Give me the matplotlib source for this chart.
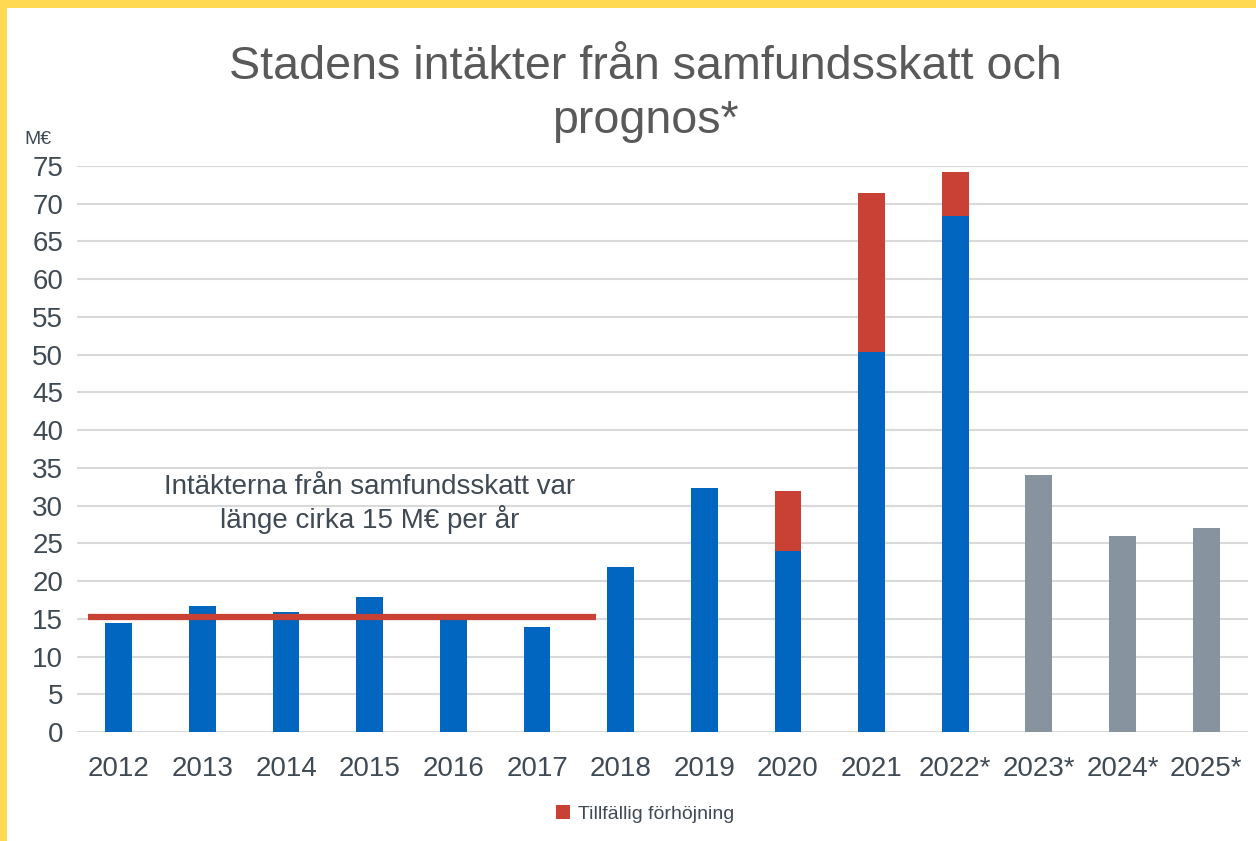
import numpy as np
import matplotlib.pyplot as plt
from matplotlib.patches import Rectangle

years = ["2012", "2013", "2014", "2015", "2016", "2017", "2018", "2019",
         "2020", "2021", "2022*", "2023*", "2024*", "2025*"]
base = [14.4, 16.7, 15.9, 17.9, 15.3, 13.9, 21.9, 32.3, 24.0, 50.4, 68.4, 34.0, 26.0, 27.0]
extra = [0, 0, 0, 0, 0, 0, 0, 0, 7.9, 21.0, 5.8, 0, 0, 0]
forecast = [False] * 11 + [True] * 3
avg_level = 15.24
avg_span = (-0.37, 5.71)

blue = "#0066BF"
red = "#C84134"
grey = "#87939E"
txt = "#404A54"

plt.rcParams["font.family"] = ["Liberation Sans", "DejaVu Sans"]

fig = plt.figure(figsize=(12.56, 8.41), dpi=100)
fig.patch.set_facecolor("#FFD951")
# white card inside the yellow frame
fig.patches.append(Rectangle((7 / 1256, 0), 1 - 7 / 1256, 1 - 8 / 841,
                             transform=fig.transFigure, facecolor="white",
                             edgecolor="none", zorder=-10))

ax = fig.add_axes([0.0613, 0.1296, 0.9323, 0.673])
ax.set_zorder(2)
ax.set_facecolor("none")

x = np.arange(len(years))
colors = [grey if f else blue for f in forecast]
ax.bar(x, base, width=0.32, color=colors, zorder=2)
red_bars = ax.bar(x, extra, width=0.32, bottom=base, color=red, zorder=2,
                  label="Tillfällig förhöjning")

ax.plot(avg_span, [avg_level, avg_level], color=red, lw=4.5, zorder=3,
        solid_capstyle="butt")

ax.text(3.0, 30.2, "Intäkterna från samfundsskatt var\nlänge cirka 15 M€ per år",
        ha="center", va="center", fontsize=20, color=txt, linespacing=1.2)

ax.set_xlim(-0.5, 13.5)
ax.set_ylim(0, 75)
ax.set_yticks(np.arange(0, 76, 5))
ax.set_xticks(x)
ax.set_xticklabels(years)
ax.tick_params(axis="both", length=0, labelsize=20, colors=txt)
ax.tick_params(axis="x", pad=17)
ax.tick_params(axis="y", pad=10)
ax.grid(axis="y", color="#D9D9D9", lw=1.5, zorder=0)
ax.set_axisbelow(True)
for s in ax.spines.values():
    s.set_visible(False)

fig.text(38 / 1256, 1 - 140 / 841, "M€", fontsize=14, color=txt,
         ha="center", va="center")
fig.text(645 / 1256, 1 - 94 / 841, "Stadens intäkter från samfundsskatt och\nprognos*",
         ha="center", va="center", fontsize=33.6, color="#595959", linespacing=1.3)

fig.legend(handles=[red_bars], loc="center", bbox_to_anchor=(645 / 1256, 1 - 814 / 841),
           frameon=False, fontsize=14, handlelength=0.7, handleheight=0.7,
           handletextpad=0.4, labelcolor=txt)

fig.savefig("out.png", dpi=100, facecolor=fig.get_facecolor())
